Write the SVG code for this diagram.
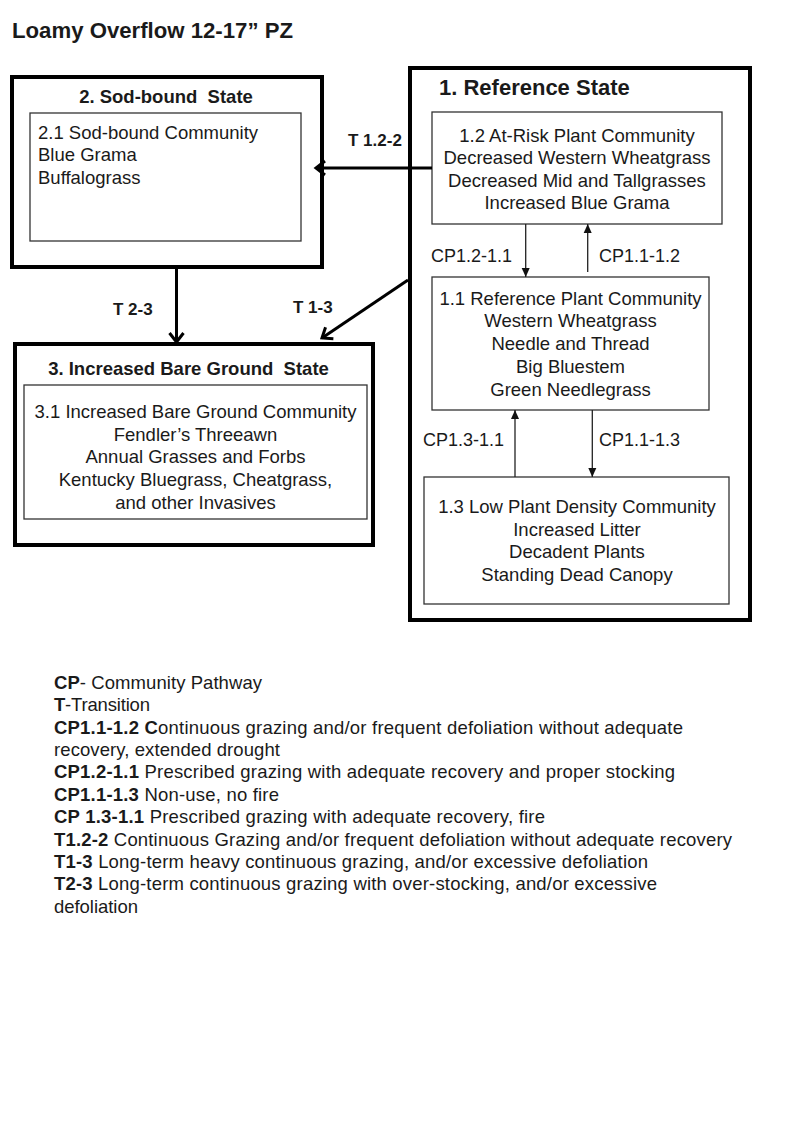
<svg xmlns="http://www.w3.org/2000/svg" width="800" height="1143" viewBox="0 0 800 1143">
<style>
text{font-family:"Liberation Sans",Arial,sans-serif;fill:#1a1a1a;white-space:pre}
.t{font-size:18.5px}
.c{text-anchor:middle}
.b{font-weight:bold}
.st{font-size:18.5px;font-weight:bold}
.lab{font-size:17px;font-weight:bold}
.cp{font-size:18px}
.outer{fill:none;stroke:#000;stroke-width:4}
.inner{fill:#fff;stroke:#333;stroke-width:1.3}
.thick{stroke:#000;stroke-width:3;fill:none}
.thin{stroke:#222;stroke-width:1.3;fill:none}
</style>
<defs>
<marker id="open" markerUnits="userSpaceOnUse" markerWidth="20" markerHeight="20" refX="10" refY="10" orient="auto" viewBox="0 0 20 20">
<path d="M1,3 L10,10 L1,17" fill="none" stroke="#000" stroke-width="3"/>
</marker>
<marker id="tri" markerUnits="userSpaceOnUse" markerWidth="10" markerHeight="10" refX="9" refY="5" orient="auto" viewBox="0 0 10 10">
<path d="M0,1 L9,5 L0,9 Z" fill="#111"/>
</marker>
</defs>
<rect width="800" height="1143" fill="#fff"/>
<text x="12" y="38" class="b" style="font-size:21.5px" textLength="281" lengthAdjust="spacingAndGlyphs">Loamy Overflow 12-17” PZ</text>

<g id="state2">
<rect class="outer" x="12" y="77" width="310" height="190"/>
<text x="166" y="103" class="st c">2. Sod-bound  State</text>
</g>
<g id="community2-1">
<rect class="inner" x="30" y="113" width="271" height="128"/>
<text x="38" y="139" class="t">2.1 Sod-bound Community</text>
<text x="38" y="161" class="t">Blue Grama</text>
<text x="38" y="184" class="t">Buffalograss</text>
</g>

<g id="state1">
<rect class="outer" x="410" y="68" width="340" height="552"/>
<text x="439" y="95" class="b" style="font-size:22px">1. Reference State</text>
</g>
<g id="community1-2">
<rect class="inner" x="432" y="112" width="290" height="112"/>
<text x="577" y="142" class="t c">1.2 At-Risk Plant Community</text>
<text x="577" y="164" class="t c">Decreased Western Wheatgrass</text>
<text x="577" y="187" class="t c">Decreased Mid and Tallgrasses</text>
<text x="577" y="209" class="t c">Increased Blue Grama</text>
</g>
<g id="community1-1">
<rect class="inner" x="432" y="277" width="277" height="133"/>
<text x="570.5" y="305" class="t c">1.1 Reference Plant Community</text>
<text x="570.5" y="327" class="t c">Western Wheatgrass</text>
<text x="570.5" y="350" class="t c">Needle and Thread</text>
<text x="570.5" y="373" class="t c">Big Bluestem</text>
<text x="570.5" y="396" class="t c">Green Needlegrass</text>
</g>
<g id="community1-3">
<rect class="inner" x="424" y="477" width="305" height="127"/>
<text x="577" y="513" class="t c">1.3 Low Plant Density Community</text>
<text x="577" y="536" class="t c">Increased Litter</text>
<text x="577" y="558" class="t c">Decadent Plants</text>
<text x="577" y="581" class="t c">Standing Dead Canopy</text>
</g>

<g id="state3">
<rect class="outer" x="15" y="344" width="358" height="201"/>
<text x="188.5" y="375" class="st c">3. Increased Bare Ground  State</text>
</g>
<g id="community3-1">
<rect class="inner" x="24" y="385" width="343" height="134"/>
<text x="195.5" y="418" class="t c">3.1 Increased Bare Ground Community</text>
<text x="195.5" y="441" class="t c">Fendler’s Threeawn</text>
<text x="195.5" y="463" class="t c">Annual Grasses and Forbs</text>
<text x="195.5" y="486" class="t c">Kentucky Bluegrass, Cheatgrass,</text>
<text x="195.5" y="509" class="t c">and other Invasives</text>
</g>

<g id="connectors">
<line class="thick" x1="432" y1="168" x2="316" y2="168" marker-end="url(#open)"/>
<line class="thick" x1="176.5" y1="269" x2="176.5" y2="342" marker-end="url(#open)"/>
<line class="thick" x1="408" y1="280" x2="322" y2="338" marker-end="url(#open)"/>
<line class="thin" x1="525.7" y1="224" x2="525.7" y2="277" marker-end="url(#tri)"/>
<line class="thin" x1="587.7" y1="272" x2="587.7" y2="224" marker-end="url(#tri)"/>
<line class="thin" x1="515" y1="477" x2="515" y2="410" marker-end="url(#tri)"/>
<line class="thin" x1="592.3" y1="410" x2="592.3" y2="477" marker-end="url(#tri)"/>
<text x="348" y="146" class="lab">T 1.2-2</text>
<text x="113" y="315" class="lab">T 2-3</text>
<text x="293" y="313" class="lab">T 1-3</text>
<text x="431" y="262" class="cp">CP1.2-1.1</text>
<text x="599" y="262" class="cp">CP1.1-1.2</text>
<text x="423" y="446" class="cp">CP1.3-1.1</text>
<text x="599" y="446" class="cp">CP1.1-1.3</text>
</g>

<g id="legend" class="t">
<text x="54" y="689" class="t" textLength="208" lengthAdjust="spacing"><tspan class="b">CP</tspan>- Community Pathway</text>
<text x="54" y="711" class="t" textLength="96" lengthAdjust="spacing"><tspan class="b">T</tspan>-Transition</text>
<text x="54" y="734" class="t" textLength="629" lengthAdjust="spacing"><tspan class="b">CP1.1-1.2 C</tspan>ontinuous grazing and/or frequent defoliation without adequate</text>
<text x="54" y="756" class="t" textLength="226" lengthAdjust="spacing">recovery, extended drought</text>
<text x="54" y="778" class="t" textLength="621" lengthAdjust="spacing"><tspan class="b">CP1.2-1.1</tspan> Prescribed grazing with adequate recovery and proper stocking</text>
<text x="54" y="801" class="t" textLength="225" lengthAdjust="spacing"><tspan class="b">CP1.1-1.3</tspan> Non-use, no fire</text>
<text x="54" y="823" class="t" textLength="491" lengthAdjust="spacing"><tspan class="b">CP 1.3-1.1</tspan> Prescribed grazing with adequate recovery, fire</text>
<text x="54" y="846" class="t" textLength="678" lengthAdjust="spacing"><tspan class="b">T1.2-2</tspan> Continuous Grazing and/or frequent defoliation without adequate recovery</text>
<text x="54" y="868" class="t" textLength="594" lengthAdjust="spacing"><tspan class="b">T1-3</tspan> Long-term heavy continuous grazing, and/or excessive defoliation</text>
<text x="54" y="890" class="t" textLength="603" lengthAdjust="spacing"><tspan class="b">T2-3</tspan> Long-term continuous grazing with over-stocking, and/or excessive</text>
<text x="54" y="913" class="t" textLength="84" lengthAdjust="spacing">defoliation</text>
</g>
</svg>
